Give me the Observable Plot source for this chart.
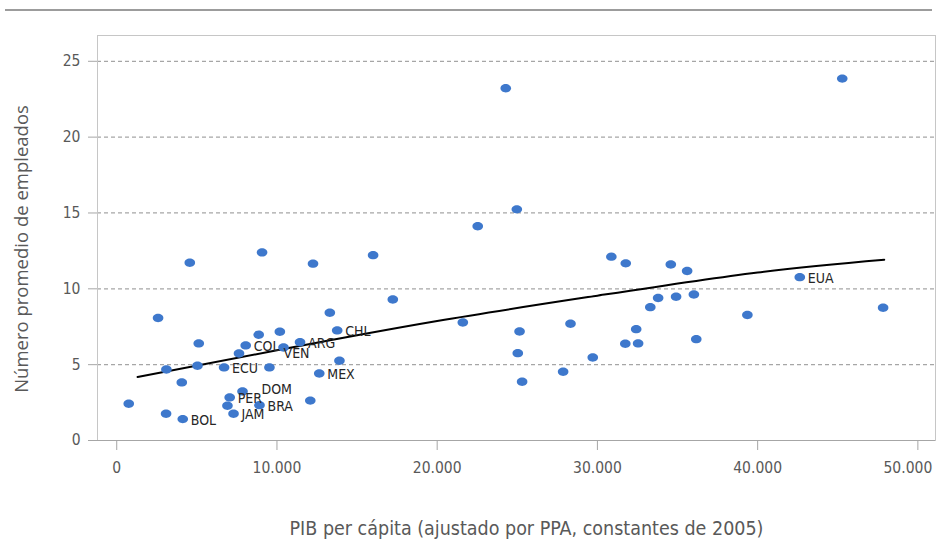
<!DOCTYPE html>
<html><head><meta charset="utf-8">
<script src="https://cdn.jsdelivr.net/npm/d3@7"></script>
<script src="https://cdn.jsdelivr.net/npm/@observablehq/plot@0.6"></script>
<style>
body{margin:0;background:#fff;}
#wrap{position:relative;width:937px;height:540px;}
#topline{position:absolute;left:5px;top:9px;width:927px;height:2px;background:#9c9c9c;}
</style></head><body><div id="wrap"><div id="topline"></div></div>
<script>
// PIB per cápita (PPA, constantes de 2005)
const gdp = [750, 2580, 3100, 3080, 4060, 4120, 4560, 5040, 5120, 6700, 6910, 7050, 7290, 7630, 7850, 8050, 8860, 8910, 9070, 9530, 10180, 10410, 11440, 12080, 12250, 12640, 13300, 13760, 13900, 16000, 17230, 21600, 22530, 24280, 24970, 25030, 25140, 25300, 27860, 28320, 29710, 30870, 31770, 31740, 32420, 32540, 33300, 33790, 34580, 34910, 35600, 36020, 36170, 39360, 42630, 45280, 47830];
// Número promedio de empleados
const employees = [2.42, 8.08, 4.68, 1.76, 3.83, 1.41, 11.72, 4.93, 6.40, 4.82, 2.29, 2.84, 1.76, 5.74, 3.23, 6.27, 6.97, 2.33, 12.40, 4.82, 7.17, 6.13, 6.48, 2.63, 11.66, 4.42, 8.42, 7.26, 5.26, 12.22, 9.30, 7.78, 14.12, 23.22, 15.24, 5.76, 7.19, 3.87, 4.53, 7.70, 5.47, 12.12, 11.68, 6.38, 7.34, 6.40, 8.79, 9.39, 11.60, 9.48, 11.17, 9.63, 6.68, 8.27, 10.77, 23.86, 8.75];
// Etiquetas de país
const country = ["", "", "", "", "", "BOL", "", "", "", "ECU", "", "PER", "JAM", "", "DOM", "COL", "", "BRA", "", "", "", "VEN", "ARG", "", "", "MEX", "", "CHL", "", "", "", "", "", "", "", "", "", "", "", "", "", "", "", "", "", "", "", "", "", "", "", "", "", "", "EUA", "", ""];
// Línea de tendencia
const trendX = [1300, 10000, 20000, 30000, 40000, 47900];
const trendY = [4.18, 5.95, 7.88, 9.55, 11.08, 11.92];
// Ticks
const xTicks = [0, 10000, 20000, 30000, 40000, 50000];
const yTicks = [0, 5, 10, 15, 20, 25];
const xTitle = "PIB per cápita (ajustado por PPA, constantes de 2005)";
const yTitle = "Número promedio de empleados";

const fmt = d3.formatLocale({decimal: ",", thousands: ".", grouping: [3], currency: ["", ""]}).format(",");
const data = gdp.map((x, i) => ({x, y: employees[i], c: country[i]}));
const trend = trendX.map((x, i) => ({x, y: trendY[i]}));
const ellipse = {draw(ctx) {
  const rx = 5.3, ry = 4.2, k = 0.5523;
  ctx.moveTo(rx, 0);
  ctx.bezierCurveTo(rx, ry * k, rx * k, ry, 0, ry);
  ctx.bezierCurveTo(-rx * k, ry, -rx, ry * k, -rx, 0);
  ctx.bezierCurveTo(-rx, -ry * k, -rx * k, -ry, 0, -ry);
  ctx.bezierCurveTo(rx * k, -ry, rx, -ry * k, rx, 0);
  ctx.closePath();
}};
const font = '"DejaVu Sans Condensed", "Liberation Sans Narrow", sans-serif';
const special = ["VEN", "DOM"];
const lastX = xTicks[xTicks.length - 1];
const labelStyle = {x: "x", y: "y", text: "c", textAnchor: "start", fontSize: 14, fill: "#262626"};
const axisXStyle = {tickSize: 10, tickPadding: 11, stroke: "#a6a6a6", fill: "#595959", fontSize: 15.5, label: null};
const plot = Plot.plot({
  width: 937, height: 540,
  marginTop: 35, marginBottom: 100, marginLeft: 97, marginRight: 2,
  style: {fontFamily: font, background: "transparent", overflow: "visible"},
  x: {domain: [-1200, 51100]},
  y: {domain: [0, 26.7]},
  marks: [
    Plot.gridY(yTicks.filter(t => t > 0), {stroke: "#a6a6a6", strokeOpacity: 1, strokeDasharray: "4,3", strokeWidth: 1.3}),
    Plot.frame({stroke: "#c6c6c6"}),
    Plot.ruleY([0], {stroke: "#a6a6a6"}),
    Plot.axisY(yTicks, {tickSize: 9, tickPadding: 8, stroke: "#a6a6a6", fill: "#595959", fontSize: 15.5, label: null}),
    Plot.axisX(xTicks, {...axisXStyle, tickFormat: d => d === lastX ? "" : fmt(d)}),
    Plot.axisX([lastX], {...axisXStyle, tickSize: 0, tickPadding: 21, dx: -10, tickFormat: fmt}),
    Plot.line(trend, {x: "x", y: "y", curve: "natural", stroke: "#000", strokeWidth: 2}),
    Plot.dot(data, {x: "x", y: "y", symbol: ellipse, fill: "#3e78cc"}),
    Plot.text(data.filter(d => d.c && !special.includes(d.c)), {...labelStyle, dx: 8, dy: 1}),
    Plot.text(data.filter(d => d.c === "VEN"), {...labelStyle, dx: 0, dy: 6}),
    Plot.text(data.filter(d => d.c === "DOM"), {...labelStyle, dx: 19, dy: -2}),
    Plot.text([xTitle], {frameAnchor: "bottom", dx: 10, dy: 94, fontSize: 19.5, fill: "#595959"}),
    Plot.text([yTitle], {frameAnchor: "left", textAnchor: "middle", dx: -75, dy: 11, rotate: -90, fontSize: 18.5, fill: "#595959", fontFamily: '"Open Sans", sans-serif'})
  ]
});
document.getElementById("wrap").appendChild(plot);
</script>
</body></html>
